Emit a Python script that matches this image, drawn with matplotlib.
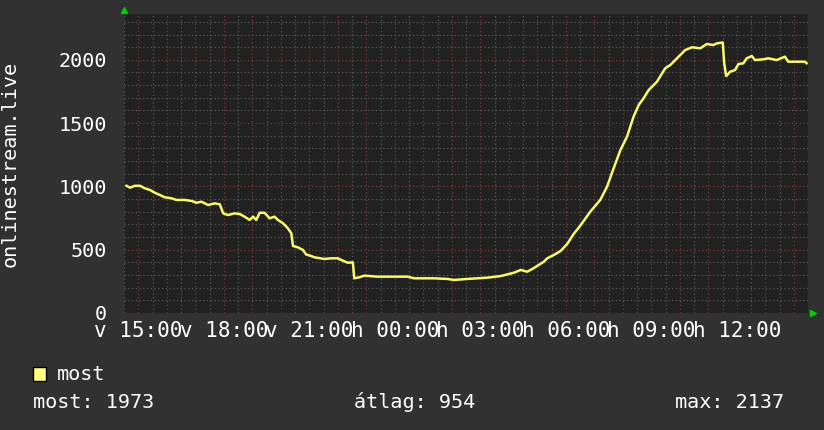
import matplotlib
matplotlib.use("Agg")
import matplotlib.pyplot as plt
import matplotlib.transforms as mtransforms
from matplotlib.ticker import MultipleLocator

# hours since v 15:00
hours = [-0.41, -0.29, -0.12, 0.06, 0.23, 0.41, 0.58, 0.76, 0.93, 1.17, 1.34, 1.63,
         1.87, 2.04, 2.22, 2.45, 2.68, 2.86, 2.98, 3.15, 3.38, 3.56, 3.73, 3.91,
         4.03, 4.14, 4.26, 4.43, 4.61, 4.78, 4.90, 5.08, 5.25, 5.37, 5.43, 5.60,
         5.78, 5.89, 6.07, 6.18, 6.53, 6.77, 7.00, 7.18, 7.35, 7.53, 7.58, 7.76,
         7.93, 8.40, 9.45, 9.68, 10.38, 10.85, 11.08, 11.55, 12.25, 12.72, 13.18,
         13.42, 13.65, 13.88, 14.23, 14.35, 14.58, 14.82, 15.05, 15.28, 15.51,
         15.86, 16.21, 16.45, 16.68, 16.92, 17.15, 17.38, 17.56, 17.73, 17.91,
         18.20, 18.49, 18.67, 18.96, 19.19, 19.43, 19.72, 19.95, 20.18, 20.30,
         20.51, 20.56, 20.63, 20.77, 20.94, 21.06, 21.23, 21.35, 21.53, 21.64,
         21.93, 22.11, 22.40, 22.69, 22.81, 23.10, 23.39, 23.45]
viewers = [1005, 990, 1005, 1005, 985, 972, 950, 932, 914, 906, 893, 893,
           885, 871, 879, 853, 866, 859, 787, 774, 787, 782, 761, 735,
           761, 735, 792, 792, 748, 761, 735, 709, 669, 630, 529, 519,
           498, 462, 450, 440, 427, 432, 432, 413, 397, 400, 274, 282,
           295, 287, 287, 274, 274, 269, 261, 269, 279, 292, 318,
           340, 326, 355, 405, 432, 458, 490, 545, 625, 690,
           800, 893, 998, 1143, 1288, 1393, 1551, 1643, 1696, 1761,
           1827, 1933, 1959, 2025, 2077, 2099, 2091, 2125, 2117, 2130,
           2137, 1972, 1872, 1906, 1919, 1967, 1972, 2012, 2030, 1998,
           2004, 2012, 1998, 2025, 1985, 1985, 1985, 1973]

tick_hours = [0, 3, 6, 9, 12, 15, 18, 21]
tick_labels = ["v 15:00", "v 18:00", "v 21:00", "h 00:00",
               "h 03:00", "h 06:00", "h 09:00", "h 12:00"]
y_ticks = [0, 500, 1000, 1500, 2000]

legend_name = "most"
stats = [("most", 1973), ("átlag", 954), ("max", 2137)]

BG = "#313131"
PLOT_BG = "#212121"
FONT = "DejaVu Sans Mono"

fig = plt.figure(figsize=(8.24, 4.30), dpi=100, facecolor=BG)
ax = fig.add_axes([124 / 824, 1 - 313 / 430, 684 / 824, 299 / 430])
ax.set_facecolor(PLOT_BG)

ax.plot(hours, viewers, color="#f8f86c", lw=1.8, zorder=3)

ax.set_xlim(-0.45, 23.5)
ax.set_ylim(0, 2362)

# gridlines: every 30 min / 100 (grey), every hour / 500 (red)
ax.set_xticks([h * 0.5 - 0.0 for h in range(-1, 48)], minor=True)
ax.set_xticks(range(0, 24))
ax.set_xticklabels([tick_labels[tick_hours.index(h)] if h in tick_hours else ""
                    for h in range(0, 24)])
ax.set_yticks(y_ticks)
ax.yaxis.set_minor_locator(MultipleLocator(100))
ax.grid(which="minor", color="#575757", lw=0.9, linestyle=(0, (1, 2)), zorder=1)
ax.grid(which="major", color="#7a3a3a", lw=0.9, linestyle=(0, (1, 2)), zorder=2)

for lab in ax.get_xticklabels() + ax.get_yticklabels():
    lab.set_fontfamily(FONT)
ax.tick_params(axis="both", which="both", length=0, colors="white", labelsize=14.5)
ax.tick_params(axis="x", labelsize=15, pad=6)
ax.tick_params(axis="y", pad=12)
for s in ax.spines.values():
    s.set_visible(False)

ax.set_ylabel("onlinestream.live", color="white", fontsize=14.5, family=FONT)
ax.yaxis.set_label_coords((20 - 124) / 684, 0.5)

# arrows at axis ends
up = mtransforms.offset_copy(ax.transAxes, fig=fig, x=0, y=4, units="dots")
ax.plot([0], [1], transform=up, marker="^", ms=5, color="#00cc00", clip_on=False, zorder=5)
rt = mtransforms.offset_copy(ax.transAxes, fig=fig, x=5, y=0, units="dots")
ax.plot([1], [0], transform=rt, marker=">", ms=5, color="#00cc00", clip_on=False, zorder=5)

# legend
fig.patches.append(plt.Rectangle((33 / 824, 1 - 381 / 430), 13 / 824, 14 / 430,
                                 transform=fig.transFigure, facecolor="#ffff80",
                                 edgecolor="black", lw=1))
fig.text(57 / 824, 1 - 374 / 430, legend_name, color="white", fontsize=14.5,
         family=FONT, va="center", ha="left")
xs = [33, 354, 675]
for (name, val), x in zip(stats, xs):
    fig.text(x / 824, 1 - 402 / 430, f"{name}: {val}", color="white", fontsize=14.5,
             family=FONT, va="center", ha="left")

fig.savefig("out.png", dpi=100, facecolor=BG)
